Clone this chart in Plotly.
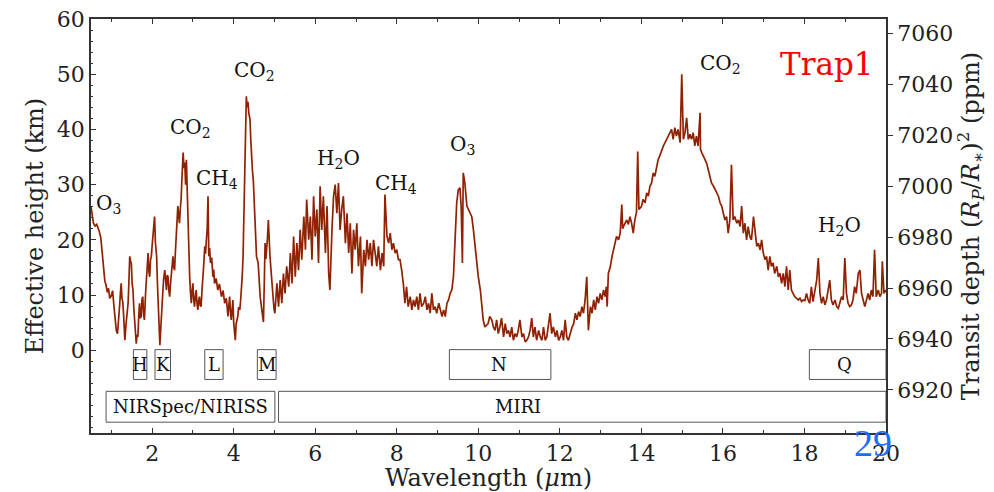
import plotly.graph_objects as go

# ---------------- data ----------------
wavelength = [
    0.50, 0.53, 0.56, 0.60, 0.64, 0.67, 0.70, 0.74, 0.77, 0.79, 0.82, 0.84, 0.87, 0.90, 0.93, 0.96,
    1.00, 1.03, 1.06, 1.09, 1.12, 1.15, 1.18, 1.20, 1.22, 1.24, 1.26, 1.28, 1.30, 1.33, 1.36, 1.39,
    1.41, 1.43, 1.45, 1.47, 1.49, 1.51, 1.53, 1.55, 1.57, 1.59, 1.61, 1.63, 1.65, 1.67, 1.69, 1.71,
    1.73, 1.75, 1.77, 1.79, 1.81, 1.84, 1.86, 1.88, 1.90, 1.92, 1.94, 1.96, 1.98, 2.00, 2.02, 2.04,
    2.06, 2.08, 2.11, 2.13, 2.15, 2.17, 2.19, 2.21, 2.22, 2.24, 2.26, 2.28, 2.31, 2.33, 2.35, 2.37,
    2.39, 2.41, 2.43, 2.45, 2.47, 2.49, 2.51, 2.53, 2.55, 2.57, 2.59, 2.61, 2.63, 2.65, 2.67, 2.69,
    2.71, 2.73, 2.76, 2.78, 2.80, 2.82, 2.84, 2.86, 2.88, 2.90, 2.92, 2.94, 2.96, 2.98, 3.00, 3.02,
    3.04, 3.06, 3.08, 3.10, 3.12, 3.14, 3.16, 3.18, 3.20, 3.22, 3.25, 3.27, 3.29, 3.31, 3.33, 3.35,
    3.37, 3.38, 3.39, 3.41, 3.43, 3.46, 3.49, 3.51, 3.53, 3.57, 3.61, 3.65, 3.70, 3.74, 3.78, 3.82,
    3.86, 3.88, 3.90, 3.92, 3.94, 3.96, 3.98, 4.00, 4.02, 4.04, 4.06, 4.08, 4.10, 4.12, 4.15, 4.17,
    4.19, 4.21, 4.23, 4.25, 4.27, 4.29, 4.31, 4.33, 4.35, 4.37, 4.40, 4.42, 4.44, 4.46, 4.48, 4.50,
    4.52, 4.56, 4.60, 4.62, 4.65, 4.69, 4.73, 4.75, 4.77, 4.79, 4.81, 4.83, 4.85, 4.87, 4.89, 4.91,
    4.93, 4.95, 4.97, 4.99, 5.01, 5.06, 5.10, 5.14, 5.18, 5.22, 5.26, 5.30, 5.35, 5.39, 5.43, 5.47,
    5.51, 5.55, 5.59, 5.63, 5.67, 5.72, 5.76, 5.79, 5.84, 5.88, 5.92, 5.96, 6.00, 6.04, 6.08, 6.12,
    6.16, 6.20, 6.25, 6.29, 6.33, 6.36, 6.41, 6.45, 6.49, 6.53, 6.57, 6.61, 6.65, 6.69, 6.74, 6.78,
    6.82, 6.86, 6.90, 6.94, 6.98, 7.02, 7.06, 7.11, 7.14, 7.19, 7.23, 7.27, 7.31, 7.35, 7.39, 7.43,
    7.47, 7.51, 7.55, 7.60, 7.64, 7.68, 7.71, 7.76, 7.80, 7.84, 7.88, 7.92, 7.96, 8.00, 8.04, 8.08,
    8.12, 8.16, 8.20, 8.24, 8.28, 8.33, 8.37, 8.41, 8.45, 8.49, 8.53, 8.57, 8.61, 8.66, 8.70, 8.74,
    8.78, 8.82, 8.86, 8.90, 8.94, 8.98, 9.03, 9.07, 9.11, 9.15, 9.19, 9.23, 9.27, 9.31, 9.35, 9.39,
    9.43, 9.47, 9.51, 9.55, 9.58, 9.61, 9.63, 9.67, 9.72, 9.76, 9.80, 9.84, 9.88, 9.92, 9.96, 10.00,
    10.05, 10.09, 10.12, 10.16, 10.20, 10.24, 10.28, 10.33, 10.37, 10.41, 10.45, 10.49, 10.53, 10.57, 10.62, 10.66,
    10.70, 10.74, 10.78, 10.82, 10.86, 10.90, 10.94, 10.98, 11.02, 11.07, 11.11, 11.15, 11.19, 11.23, 11.27, 11.31,
    11.35, 11.39, 11.43, 11.48, 11.52, 11.56, 11.60, 11.64, 11.68, 11.72, 11.76, 11.80, 11.84, 11.89, 11.93, 11.97,
    12.01, 12.05, 12.09, 12.13, 12.17, 12.21, 12.25, 12.30, 12.34, 12.38, 12.42, 12.46, 12.50, 12.54, 12.58, 12.62,
    12.66, 12.70, 12.75, 12.79, 12.83, 12.87, 12.91, 12.95, 12.99, 13.03, 13.07, 13.11, 13.14, 13.16, 13.19, 13.24,
    13.28, 13.32, 13.36, 13.39, 13.44, 13.48, 13.52, 13.54, 13.56, 13.60, 13.64, 13.68, 13.72, 13.76, 13.80, 13.84,
    13.88, 13.91, 13.94, 14.00, 14.04, 14.09, 14.13, 14.17, 14.21, 14.25, 14.29, 14.33, 14.37, 14.41, 14.45, 14.50,
    14.54, 14.58, 14.62, 14.66, 14.70, 14.74, 14.78, 14.82, 14.86, 14.90, 14.95, 14.99, 15.03, 15.07, 15.11, 15.15,
    15.19, 15.23, 15.27, 15.31, 15.35, 15.39, 15.44, 15.45, 15.48, 15.52, 15.56, 15.60, 15.64, 15.68, 15.72, 15.77,
    15.81, 15.85, 15.89, 15.93, 15.97, 16.01, 16.05, 16.09, 16.13, 16.17, 16.21, 16.25, 16.29, 16.34, 16.38, 16.42,
    16.46, 16.50, 16.54, 16.58, 16.62, 16.66, 16.70, 16.75, 16.79, 16.83, 16.87, 16.91, 16.95, 16.99, 17.03, 17.07,
    17.11, 17.15, 17.19, 17.23, 17.27, 17.32, 17.36, 17.40, 17.44, 17.48, 17.52, 17.56, 17.60, 17.64, 17.68, 17.72,
    17.76, 17.81, 17.85, 17.89, 17.93, 17.97, 18.01, 18.05, 18.09, 18.13, 18.17, 18.21, 18.25, 18.30, 18.34, 18.38,
    18.42, 18.46, 18.50, 18.54, 18.58, 18.62, 18.66, 18.70, 18.75, 18.79, 18.83, 18.87, 18.91, 18.95, 18.99, 19.03,
    19.07, 19.11, 19.15, 19.19, 19.23, 19.27, 19.32, 19.36, 19.40, 19.44, 19.48, 19.52, 19.56, 19.60, 19.64, 19.68,
    19.72, 19.76, 19.81, 19.85, 19.89, 19.91, 19.95, 20.00,
]
height_km = [
    26.0, 24.5, 23.0, 22.5, 22.8, 22.2, 21.6, 20.4, 18.5, 16.5, 14.0, 12.5, 11.8, 10.5, 11.2, 9.4,
    9.9, 10.8, 8.2, 5.6, 3.6, 3.0, 5.2, 7.9, 10.2, 12.1, 9.4, 8.7, 6.3, 1.8, 4.8, 7.2,
    8.5, 12.5, 17.0, 16.2, 15.7, 12.0, 10.9, 7.6, 5.5, 3.0, 1.2, 2.8, 2.4, 6.0, 8.5, 5.8,
    6.1, 9.2, 9.7, 6.4, 5.5, 10.5, 13.3, 16.0, 17.6, 14.2, 13.3, 16.4, 17.0, 19.0, 20.6, 22.0,
    24.2, 19.5, 17.0, 12.0, 8.5, 4.2, 0.9, 3.8, 5.5, 8.2, 10.9, 12.8, 14.5, 12.0, 10.9, 13.6,
    13.3, 10.8, 9.7, 12.0, 13.3, 15.6, 17.0, 15.0, 14.5, 17.8, 20.6, 23.5, 26.1, 24.4, 23.0, 25.6,
    27.3, 31.0, 35.8, 33.0, 34.0, 30.0, 34.5, 29.0, 23.0, 17.5, 13.3, 10.5, 8.5, 10.8, 12.1, 9.0,
    7.9, 9.8, 10.9, 8.6, 7.3, 8.9, 9.7, 8.1, 7.9, 10.5, 13.3, 16.0, 18.8, 17.5, 20.0, 22.0,
    27.9, 21.0, 17.0, 18.5, 15.8, 16.8, 13.3, 14.6, 12.1, 13.0, 10.9, 12.0, 9.7, 10.8, 8.5, 9.4,
    6.1, 8.0, 9.7, 7.0, 5.5, 7.2, 9.1, 5.0, 2.4, 1.8, 4.8, 5.6, 6.1, 7.8, 7.3, 9.0,
    10.9, 13.5, 17.0, 26.0, 35.0, 41.5, 46.0, 44.0, 45.0, 43.0, 41.8, 38.0, 34.0, 32.5, 31.0, 27.0,
    23.0, 17.0, 15.8, 13.0, 9.7, 7.3, 5.1, 12.0, 19.4, 16.5, 18.2, 20.5, 23.6, 19.0, 17.0, 15.0,
    13.3, 10.5, 8.5, 7.4, 6.7, 12.1, 7.9, 12.7, 8.5, 13.9, 10.3, 15.2, 11.5, 17.6, 12.1, 20.6,
    13.3, 19.4, 14.5, 21.8, 16.4, 24.2, 18.2, 27.3, 20.0, 24.2, 16.4, 27.9, 20.6, 25.5, 15.8, 29.7,
    21.8, 27.9, 17.6, 26.1, 13.9, 10.9, 21.8, 27.9, 30.0, 24.8, 30.3, 21.8, 25.5, 27.9, 19.4, 24.8,
    17.6, 23.0, 13.9, 21.8, 18.2, 23.0, 15.2, 20.6, 10.3, 18.2, 15.2, 20.0, 16.4, 19.4, 15.2, 20.0,
    17.6, 15.2, 18.8, 14.5, 17.6, 15.2, 28.2, 20.6, 19.4, 21.2, 18.2, 19.4, 17.6, 18.2, 16.4, 16.4,
    14.5, 12.1, 8.5, 11.5, 7.9, 9.7, 7.3, 9.1, 7.9, 9.7, 7.3, 10.3, 7.9, 8.5, 9.7, 7.3,
    8.5, 6.7, 10.3, 7.3, 7.9, 6.7, 8.5, 7.3, 6.1, 7.3, 6.1, 8.5, 9.1, 10.3, 10.9, 13.3,
    21.2, 26.7, 29.1, 29.4, 26.0, 15.8, 32.1, 30.3, 26.1, 25.5, 24.8, 24.2, 21.8, 18.8, 16.4, 13.3,
    10.9, 7.9, 5.5, 4.2, 4.6, 4.8, 6.1, 5.5, 4.2, 3.6, 5.5, 3.0, 4.2, 5.8, 2.4, 4.8,
    3.0, 3.6, 2.4, 4.2, 1.8, 3.0, 2.4, 3.6, 5.5, 2.4, 3.0, 1.5, 1.8, 2.4, 3.6, 5.8,
    2.4, 4.2, 1.8, 3.6, 2.4, 1.8, 4.2, 1.8, 2.4, 4.8, 6.7, 3.0, 4.2, 2.4, 3.6, 1.8,
    2.4, 3.6, 1.8, 5.5, 2.4, 1.8, 3.0, 4.2, 4.8, 6.7, 5.5, 7.0, 6.1, 7.9, 6.7, 9.1,
    13.3, 3.6, 7.9, 6.7, 9.1, 7.3, 9.7, 8.5, 10.3, 9.1, 10.9, 9.7, 11.5, 7.9, 13.9, 15.2,
    17.0, 18.2, 19.4, 20.6, 20.0, 21.2, 26.4, 22.0, 22.4, 23.0, 23.6, 22.8, 24.2, 23.0, 21.2, 23.6,
    25.0, 36.0, 25.5, 26.0, 27.3, 26.7, 28.5, 27.9, 29.7, 30.3, 32.1, 31.5, 33.3, 34.5, 35.2, 36.4,
    37.0, 37.6, 38.2, 38.8, 39.4, 40.0, 38.2, 40.3, 38.8, 40.0, 37.6, 50.0, 38.2, 39.4, 42.1, 38.2,
    39.1, 38.2, 39.4, 37.0, 38.8, 37.0, 43.0, 36.4, 35.8, 35.2, 34.5, 33.9, 32.7, 31.5, 30.3, 29.7,
    29.1, 28.5, 27.9, 26.7, 26.1, 24.8, 23.6, 24.2, 21.2, 23.6, 33.6, 23.6, 24.2, 23.0, 23.6, 22.4,
    26.1, 21.2, 23.0, 20.0, 22.4, 20.6, 20.0, 24.2, 21.2, 18.8, 19.4, 18.2, 20.0, 17.6, 16.4, 17.0,
    14.5, 17.0, 15.2, 15.8, 13.9, 15.2, 13.3, 13.9, 12.1, 13.9, 11.5, 15.2, 10.9, 14.5, 10.9, 10.3,
    9.7, 9.4, 9.1, 9.4, 8.8, 9.1, 9.0, 10.3, 9.1, 8.5, 11.5, 8.8, 10.3, 12.7, 16.7, 10.3,
    8.5, 9.7, 8.2, 9.1, 10.9, 12.7, 9.1, 8.2, 9.1, 7.9, 7.6, 8.5, 9.7, 9.1, 16.7, 10.3,
    8.5, 7.9, 8.2, 9.1, 11.5, 10.3, 13.9, 14.5, 10.3, 9.1, 7.9, 9.1, 10.3, 9.1, 10.9, 9.7,
    18.2, 9.7, 10.9, 9.7, 10.3, 16.1, 10.3, 10.9,
]

# molecule labels: (text, wavelength, height)
mol_text = ["O<sub>3</sub>", "CO<sub>2</sub>", "CH<sub>4</sub>", "CO<sub>2</sub>", "H<sub>2</sub>O",
            "CH<sub>4</sub>", "O<sub>3</sub>", "CO<sub>2</sub>", "H<sub>2</sub>O"]
mol_x = [0.94, 2.93, 3.59, 4.50, 6.56, 7.98, 9.62, 15.93, 18.85]
mol_y = [26.4, 40.2, 31.1, 50.5, 34.7, 30.2, 37.1, 51.8, 22.5]

# photometric bands: name, start, end
band_names = ["H", "K", "L", "M", "N", "Q"]
band_start = [1.54, 2.07, 3.29, 4.58, 9.29, 18.12]
band_end = [1.87, 2.45, 3.74, 5.04, 11.78, 20.0]
band_label_x = [1.70, 2.26, 3.52, 4.81, 10.50, 18.98]

# instruments: name, start, end
inst_names = ["NIRSpec/NIRISS", "MIRI"]
inst_start = [0.87, 5.10]
inst_end = [5.01, 20.0]
inst_label_x = [2.94, 10.97]

x_ticks = [2, 4, 6, 8, 10, 12, 14, 16, 18, 20]
y_ticks = [0, 10, 20, 30, 40, 50, 60]
y2_ticks = [6920, 6940, 6960, 6980, 7000, 7020, 7040, 7060]

# ---------------- figure ----------------
SERIF = "DejaVu Serif"
LINE = "rgb(145,33,3)"
AX = "#333333"

fig = go.Figure()
fig.add_trace(go.Scatter(x=wavelength, y=height_km, mode="lines",
                         line=dict(color=LINE, width=1.7), showlegend=False,
                         hoverinfo="skip"))
fig.add_trace(go.Scatter(x=[None], y=[None], yaxis="y2", showlegend=False,
                         hoverinfo="skip"))

for t, x, y in zip(mol_text, mol_x, mol_y):
    fig.add_annotation(x=x, y=y, text=t, showarrow=False,
                       font=dict(family=SERIF, size=20, color="#111"))

BAND_TOP, BAND_BOT = 0.1, -5.3
for n, s, e, lx in zip(band_names, band_start, band_end, band_label_x):
    fig.add_shape(type="rect", x0=s, x1=e, y0=BAND_BOT, y1=BAND_TOP,
                  line=dict(color="#555", width=1), xref="x", yref="y")
    fig.add_annotation(x=lx, y=(BAND_TOP + BAND_BOT) / 2, text=n, showarrow=False,
                       font=dict(family=SERIF, size=18, color="#111"))

INST_TOP, INST_BOT = -7.45, -13.04
for n, s, e, lx in zip(inst_names, inst_start, inst_end, inst_label_x):
    fig.add_shape(type="rect", x0=s, x1=e, y0=INST_BOT, y1=INST_TOP,
                  line=dict(color="#555", width=1), xref="x", yref="y")
    fig.add_annotation(x=lx, y=(INST_TOP + INST_BOT) / 2, text=n, showarrow=False,
                       font=dict(family=SERIF, size=18, color="#111"))

fig.add_annotation(x=18.55, y=51.8, text="Trap1", showarrow=False,
                   font=dict(family=SERIF, size=31, color="red"))
fig.add_annotation(xref="paper", yref="paper", x=0.9836, y=-0.025, text="29",
                   xanchor="center", yanchor="middle", showarrow=False,
                   font=dict(family="Liberation Serif", size=38, color="#1a6dff"))

tickfont = dict(family=SERIF, size=22, color="#222")
titlefont = dict(family=SERIF, size=24, color="#222")

fig.update_layout(
    width=994, height=492,
    margin=dict(l=91, r=108, t=19, b=59, autoexpand=False),
    paper_bgcolor="white", plot_bgcolor="white",
    xaxis=dict(range=[0.5, 20], tickmode="array", tickvals=x_ticks, automargin=False,
               ticks="inside", ticklen=5, tickwidth=1, tickcolor=AX,
               minor=dict(tickvals=[1, 3, 5, 7, 9, 11, 13, 15, 17, 19], ticks="inside",
                          ticklen=3, tickcolor=AX),
               showline=True, linecolor=AX, linewidth=1.5, mirror="ticks",
               showgrid=False, zeroline=False, tickfont=tickfont,
               ticklabelstandoff=0,
               title=dict(text="Wavelength (<i>μ</i>m)", font=titlefont, standoff=0)),
    yaxis=dict(range=[-15, 60], tickmode="array", tickvals=y_ticks, automargin=False,
               ticks="inside", ticklen=5, tickwidth=1, tickcolor=AX,
               minor=dict(tickvals=list(range(-14, 60, 2)), ticks="inside",
                          ticklen=2, tickcolor=AX),
               showline=True, linecolor=AX, linewidth=1.5, mirror=True,
               showgrid=False, zeroline=False, tickfont=tickfont,
               title=dict(text="Effective height (km)", font=titlefont, standoff=6)),
    yaxis2=dict(overlaying="y", side="right", range=[6903.1, 7065.6], automargin=False,
                tickmode="array", tickvals=y2_ticks,
                ticks="outside", ticklen=5, tickwidth=1, tickcolor=AX,
                showline=True, linecolor=AX, linewidth=1.5,
                showgrid=False, zeroline=False, tickfont=tickfont,
                title=dict(text="Transit depth (<i>R<sub>P</sub></i>/<i>R<sub>∗</sub></i>)<sup>2</sup> (ppm)",
                           font=titlefont, standoff=6)),
)

fig.write_html("out.html")
